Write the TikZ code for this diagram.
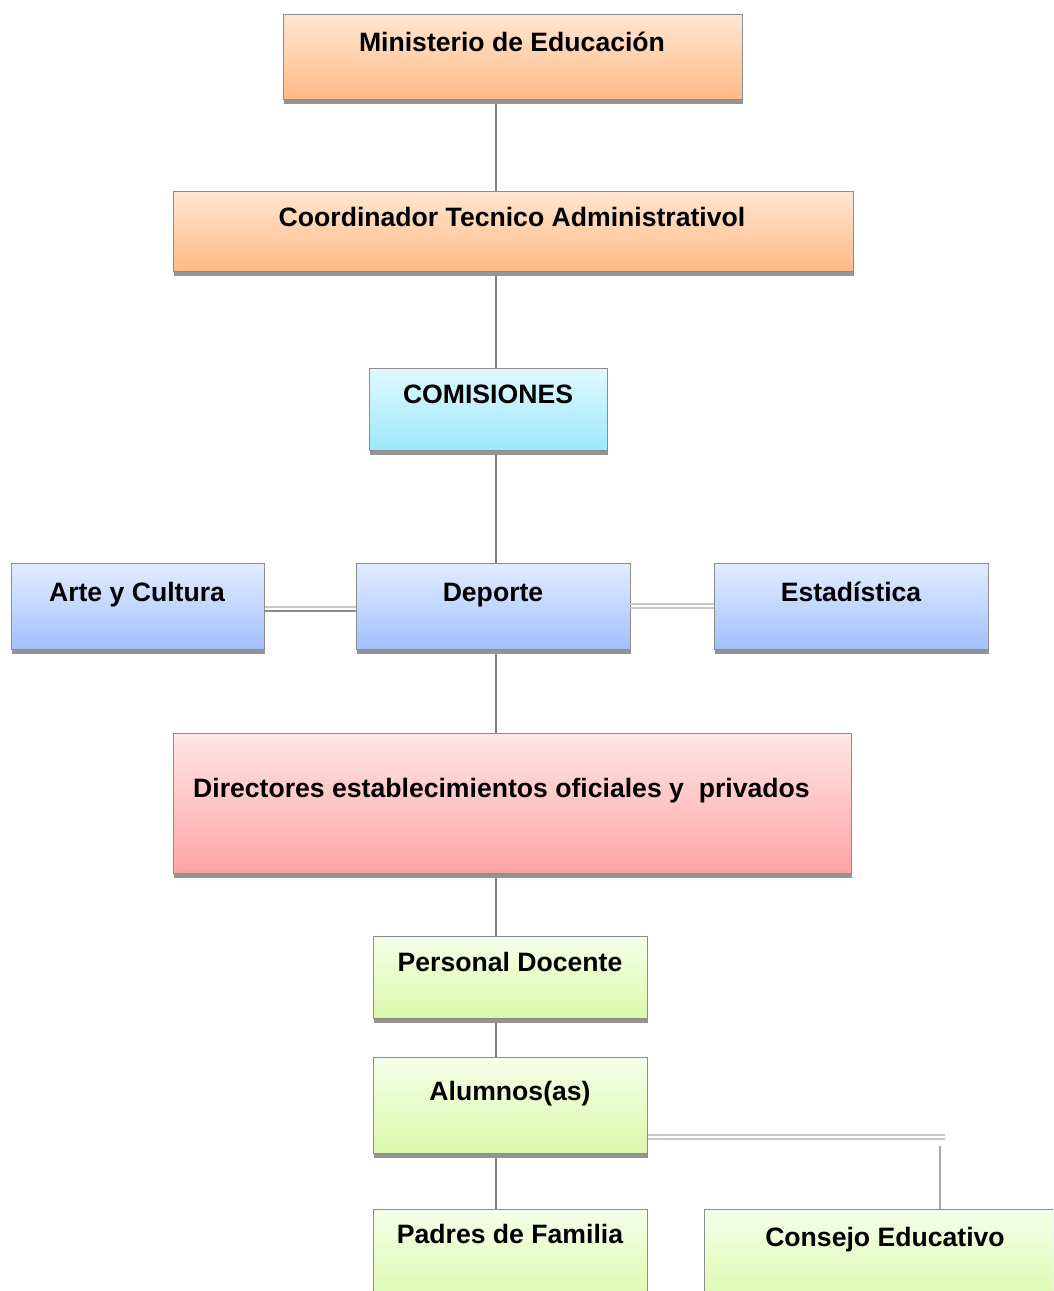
\documentclass[tikz,border=0pt]{standalone}
\usepackage{fontspec}
\setmainfont{Liberation Sans}
\usetikzlibrary{shadows}
\definecolor{orTop}{HTML}{FFE6D2}
\definecolor{orBot}{HTML}{FFBA85}
\definecolor{cyTop}{HTML}{E0F9FF}
\definecolor{cyBot}{HTML}{9CE8FC}
\definecolor{blTop}{HTML}{E2ECFF}
\definecolor{blBot}{HTML}{A2C0FE}
\definecolor{pkTop}{HTML}{FFE6E6}
\definecolor{pkBot}{HTML}{FFA3A3}
\definecolor{grTop}{HTML}{F6FFE8}
\definecolor{grBot}{HTML}{DAF8AA}
\definecolor{lineGray}{HTML}{808080}
\tikzset{
  orgbox/.style={draw=black!45, line width=1pt, rectangle, anchor=north west, inner sep=0pt,
    general shadow={fill=black!42, shadow xshift=0.5pt, shadow yshift=-4pt}},
  orangebox/.style={orgbox, top color=orTop, bottom color=orBot},
  cyanbox/.style={orgbox, top color=cyTop, bottom color=cyBot},
  bluebox/.style={orgbox, top color=blTop, bottom color=blBot},
  pinkbox/.style={orgbox, top color=pkTop, bottom color=pkBot},
  greenbox/.style={orgbox, top color=grTop, bottom color=grBot},
  lbl/.style={anchor=base, inner sep=0pt, font=\fontsize{26.6}{30}\selectfont\bfseries},
  conn/.style={draw=lineGray, line width=1.2pt},
  dblA/.style={draw=black!45, line width=1.3pt},
  dblB/.style={draw=black!22, line width=1.3pt}
}
\begin{document}
\begin{tikzpicture}[x=1pt,y=-1pt]
\useasboundingbox (0,0) rectangle (1053,1291);
\clip (0,0) rectangle (1053,1291);
\coordinate (spine) at (496,0);
% boxes
\node[orangebox, minimum width=459pt, minimum height=85pt] (min) at (283,14) {};
\node[orangebox, minimum width=680pt, minimum height=80pt] (coord) at (173,191) {};
\node[cyanbox, minimum width=238pt, minimum height=82pt] (com) at (369,368) {};
\node[bluebox, minimum width=253pt, minimum height=86pt] (arte) at (11,563) {};
\node[bluebox, minimum width=274pt, minimum height=86pt] (dep) at (356,563) {};
\node[bluebox, minimum width=274pt, minimum height=86pt] (est) at (714,563) {};
\node[pinkbox, minimum width=678pt, minimum height=140pt] (dir) at (173,733) {};
\node[greenbox, minimum width=274pt, minimum height=82pt] (doc) at (373,936) {};
\node[greenbox, minimum width=274pt, minimum height=96pt] (alu) at (373,1057) {};
\node[greenbox, minimum width=274pt, minimum height=100pt] (pad) at (373,1209) {};
\node[greenbox, minimum width=360pt, minimum height=100pt] (con) at (704,1209) {};
% vertical connectors
\draw[conn] (min.south -| spine) ++(0,4) -- (coord.north -| spine);
\draw[conn] (coord.south -| spine) ++(0,4) -- (com.north -| spine);
\draw[conn] (com.south -| spine) ++(0,4) -- (dep.north -| spine);
\draw[conn] (dep.south -| spine) ++(0,4) -- (dir.north -| spine);
\draw[conn] (dir.south -| spine) ++(0,4) -- (doc.north -| spine);
\draw[conn] (doc.south -| spine) ++(0,4) -- (alu.north -| spine);
\draw[conn] (alu.south -| spine) ++(0,4) -- (pad.north -| spine);
% double connectors
\draw[dblB] ([yshift=-44pt]arte.north east) -- ([yshift=-44pt]dep.north west);
\draw[dblA] ([yshift=-48pt]arte.north east) -- ([yshift=-48pt]dep.north west);
\draw[dblB] ([xshift=-2pt,yshift=-41pt]dep.north east) -- ([yshift=-41pt]est.north west);
\draw[dblB] ([xshift=-2pt,yshift=-45pt]dep.north east) -- ([yshift=-45pt]est.north west);
\coordinate (cbend) at (945,1136);
\draw[dblB] ([yshift=-78pt]alu.north east) -- ([yshift=-78pt]alu.north east -| cbend);
\draw[dblB] ([yshift=-82pt]alu.north east) -- ([yshift=-82pt]alu.north east -| cbend);
\coordinate (ctop) at (940,1146);
\draw[draw=black!35, line width=1.2pt] (ctop) -- (ctop |- con.north);
% labels
\node[lbl] (tmin) at (512,51) {Ministerio de Educación};
\node[lbl] (tcoord) at (512,226) {Coordinador Tecnico Administrativol};
\node[lbl] (tcom) at (488,403) {COMISIONES};
\node[lbl] (tarte) at (137,601) {Arte y Cultura};
\node[lbl] (tdep) at (493,601) {Deporte};
\node[lbl] (test) at (851,601) {Estadística};
\node[lbl, anchor=base west] (tdir) at (193,797) {Directores establecimientos oficiales y \ privados};
\node[lbl] (tdoc) at (510,971) {Personal Docente};
\node[lbl] (talu) at (510,1100) {Alumnos(as)};
\node[lbl] (tpad) at (510,1243) {Padres de Familia};
\node[lbl] (tcon) at (885,1246) {Consejo Educativo};
\end{tikzpicture}
\end{document}
